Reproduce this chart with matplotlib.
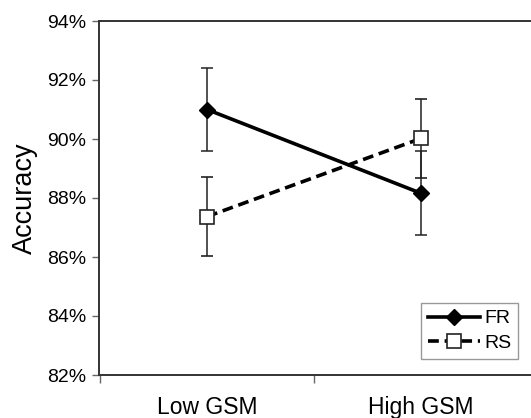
import matplotlib.pyplot as plt
from matplotlib.lines import Line2D
from matplotlib.ticker import FuncFormatter

plt.rcParams['font.family'] = ['Liberation Sans', 'DejaVu Sans']

groups = ['Low GSM', 'High GSM']
fr_acc = [91.0, 88.16]
fr_err = [1.42, 1.42]
rs_acc = [87.37, 90.02]
rs_err = [1.33, 1.34]

fig = plt.figure(figsize=(5.31, 4.18), dpi=100)
ax = fig.add_axes([99 / 531, 1 - 375 / 418, 1 - 99 / 531, (375 - 21) / 418])

fr_style = dict(color='black', lw=2.6, marker='D', markersize=8,
                markerfacecolor='black')
rs_style = dict(color='black', lw=2.6, ls=(0, (3, 1.6)), marker='s',
                markersize=10, markerfacecolor='white',
                markeredgecolor='#222222', markeredgewidth=1.2)

x = range(len(groups))
ax.errorbar(x, fr_acc, yerr=fr_err, ecolor='#222222', elinewidth=1.1,
            capsize=4, capthick=1.1, zorder=3, **fr_style)
ax.errorbar(x, rs_acc, yerr=rs_err, ecolor='#222222', elinewidth=1.1,
            capsize=4, capthick=1.1, zorder=3, **rs_style)

ax.set_ylim(82, 94)
ax.set_yticks([82, 84, 86, 88, 90, 92, 94])
ax.yaxis.set_major_formatter(FuncFormatter(lambda v, p: f'{v:.0f}%'))
ax.set_xlim(-0.505, 1.514)
ax.set_xticks([-0.5, 0.5])
ax.set_xticklabels([])
ax.set_xticks(list(x), minor=True)
ax.set_xticklabels(groups, minor=True)
ax.tick_params(axis='x', which='minor', length=0, pad=15, labelsize=16.5)
ax.tick_params(axis='x', which='major', length=6, width=1, color='#666666')
ax.tick_params(axis='y', length=5, width=1, color='#666666', labelsize=14,
               pad=4)
ax.set_ylabel('Accuracy', fontsize=19.5, labelpad=7)

ax.spines['right'].set_visible(False)
for s in ['left', 'bottom', 'top']:
    ax.spines[s].set_color('#333333')
    ax.spines[s].set_linewidth(1.4)

handles = [Line2D([], [], **fr_style), Line2D([], [], **rs_style)]
leg = ax.legend(handles, ['FR', 'RS'], loc='upper right',
                bbox_to_anchor=(518 / 531, 1 - 303 / 418),
                bbox_transform=fig.transFigure, fontsize=14, handlelength=2.7,
                handletextpad=0.2, borderpad=0.35, labelspacing=0.35,
                fancybox=False, framealpha=1, borderaxespad=0)
leg.get_frame().set_edgecolor('#999999')
leg.get_frame().set_linewidth(1)

plt.savefig('out.png', dpi=100)
